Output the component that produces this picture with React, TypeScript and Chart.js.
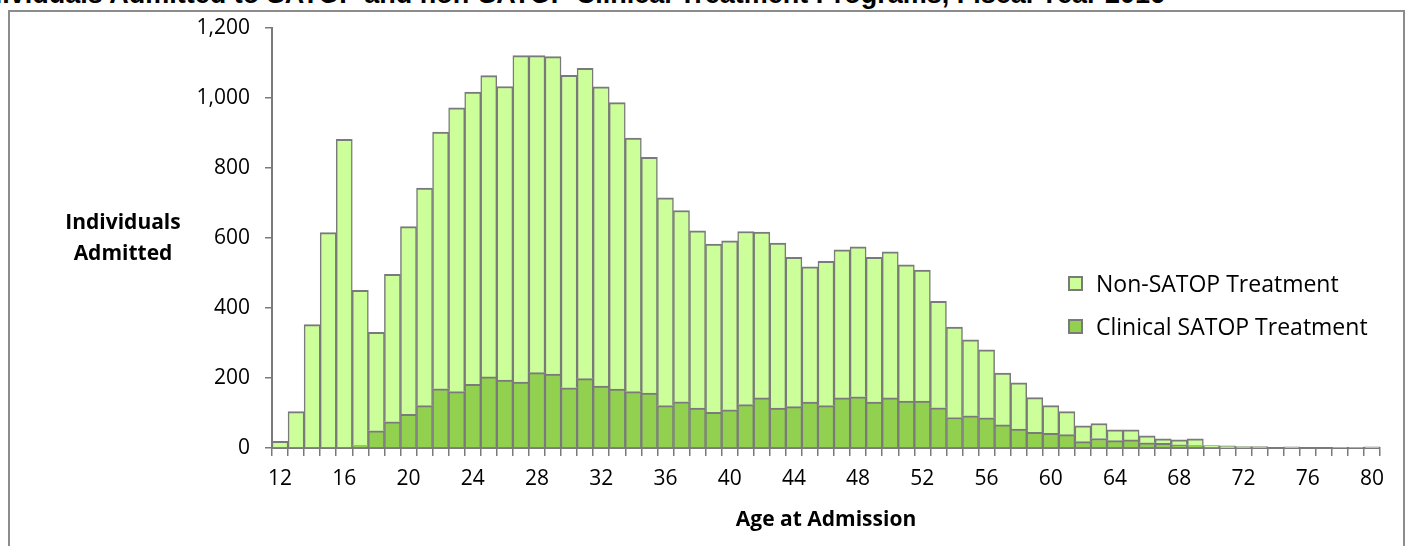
import React, { useEffect, useRef } from 'react';
import { Chart, registerables } from 'chart.js';

Chart.register(...registerables);

const TITLE = 'Individuals Admitted to SATOP and non-SATOP Clinical Treatment Programs, Fiscal Year 2016';
const Y_TITLE = ['Individuals', 'Admitted'];
const X_TITLE = 'Age at Admission';
const SERIES_NAMES = ['Clinical SATOP Treatment', 'Non-SATOP Treatment'];

const AGES = [
  '12', '13', '14', '15', '16', '17', '18', '19', '20', '21', '22', '23', '24', '25', '26', '27', '28',
  '29', '30', '31', '32', '33', '34', '35', '36', '37', '38', '39', '40', '41', '42', '43', '44', '45',
  '46', '47', '48', '49', '50', '51', '52', '53', '54', '55', '56', '57', '58', '59', '60', '61', '62',
  '63', '64', '65', '66', '67', '68', '69', '70', '71', '72', '73', '74', '75', '76', '77', '78', '79', '80',
];

const X_TICK_LABELS = ['12', '16', '20', '24', '28', '32', '36', '40', '44', '48', '52', '56', '60', '64', '68', '72', '76', '80'];

const CLINICAL_SATOP = [
  0, 0, 0, 0, 0, 7, 49, 75, 96, 121,
  169, 161, 182, 203, 194, 188, 215, 211, 172, 198,
  177, 168, 161, 157, 121, 132, 114, 102, 109, 124,
  143, 114, 118, 131, 121, 143, 146, 131, 143, 134,
  134, 115, 87, 92, 86, 66, 54, 45, 42, 38,
  18, 27, 21, 23, 15, 13, 9, 7, 2, 1,
  1, 1, 0, 1, 0, 0, 0, 0, 1,
];

const NON_SATOP = [
  19, 104, 352, 615, 881, 443, 281, 421, 536, 621,
  733, 810, 834, 860, 838, 932, 905, 906, 892, 886,
  854, 818, 724, 673, 593, 546, 506, 480, 482, 494,
  473, 471, 426, 386, 412, 423, 428, 413, 417, 389,
  374, 304, 258, 217, 194, 148, 132, 99, 79, 66,
  45, 43, 31, 29, 20, 13, 14, 19, 5, 5,
  3, 3, 2, 2, 2, 2, 1, 1, 2,
];

const Y_MIN = 0;
const Y_MAX = 1200;
const Y_STEP = 200;

const COLORS = { clinical: '#92D050', non: '#CCFF99', edge: '#7a7a7a', frame: '#8c8c8c' };
const FONT = "'Open Sans', 'Liberation Sans', sans-serif";

export default function App() {
  const canvasRef = useRef<HTMLCanvasElement | null>(null);

  useEffect(() => {
    document.body.style.margin = '0';
    const canvas = canvasRef.current;
    if (!canvas) return;
    const chart = new Chart(canvas, {
      type: 'bar',
      data: {
        labels: AGES,
        datasets: [
          {
            label: SERIES_NAMES[0],
            data: CLINICAL_SATOP,
            backgroundColor: COLORS.clinical,
            borderColor: COLORS.edge,
            borderWidth: { top: 2, left: 1.5, right: 1.5, bottom: 0 },
            barPercentage: 1,
            categoryPercentage: 1,
            stack: 's',
          },
          {
            label: SERIES_NAMES[1],
            data: NON_SATOP,
            backgroundColor: COLORS.non,
            borderColor: COLORS.edge,
            borderWidth: { top: 2, left: 1.5, right: 1.5, bottom: 0 },
            barPercentage: 1,
            categoryPercentage: 1,
            stack: 's',
          },
        ],
      },
      options: {
        responsive: false,
        animation: false,
        devicePixelRatio: 1,
        layout: { padding: { top: 25, right: 31, bottom: 0, left: 0 } },
        plugins: {
          legend: { display: false },
          tooltip: { enabled: false },
          title: { display: false },
        },
        scales: {
          x: {
            stacked: true,
            offset: true,
            grid: {
              display: true,
              drawOnChartArea: false,
              drawTicks: true,
              tickLength: 8,
              color: COLORS.edge,
              lineWidth: 1.5,
              offset: true,
            },
            border: { display: true, color: COLORS.edge, width: 2 },
            ticks: {
              autoSkip: false,
              maxRotation: 0,
              minRotation: 0,
              padding: 10,
              color: '#000',
              font: { family: FONT, size: 21 },
              callback: function (_v: any, idx: number) {
                const lab = AGES[idx];
                return X_TICK_LABELS.includes(lab) ? lab : '';
              },
            },
            title: {
              display: true,
              text: X_TITLE,
              color: '#000',
              font: { family: FONT, size: 21, weight: 'bold' },
              padding: { top: 0, bottom: 13 },
            },
            afterFit: (scale: any) => {
              scale.height = 98;
            },
          },
          y: {
            stacked: true,
            min: Y_MIN,
            max: Y_MAX,
            ticks: {
              stepSize: Y_STEP,
              padding: 15,
              color: '#000',
              font: { family: FONT, size: 21 },
            },
            grid: {
              display: true,
              drawOnChartArea: false,
              drawTicks: true,
              tickLength: 7,
              color: COLORS.edge,
              lineWidth: 1.5,
            },
            border: { display: true, color: COLORS.edge, width: 2 },
            afterFit: (scale: any) => {
              scale.width = 272;
            },
          },
        },
      },
    });
    return () => chart.destroy();
  }, []);

  const legendItems = [
    { name: SERIES_NAMES[1], color: COLORS.non, top: 268 },
    { name: SERIES_NAMES[0], color: COLORS.clinical, top: 311 },
  ];

  return (
    <div style={{ position: 'fixed', left: 0, top: 0, width: 1411, height: 546, overflow: 'hidden', background: '#fff' }}>
      <div
        style={{
          position: 'absolute',
          left: 8,
          top: 10,
          width: 1397,
          height: 560,
          border: `2px solid ${COLORS.frame}`,
          boxSizing: 'border-box',
        }}
      />
      <div
        style={{
          position: 'absolute',
          right: 1411 - 1165,
          top: -19,
          whiteSpace: 'nowrap',
          font: "bold 27px 'Liberation Sans', Arial, sans-serif",
          lineHeight: '27px',
          color: '#000',
        }}
      >
        {TITLE}
      </div>
      <canvas ref={canvasRef} width={1411} height={546} style={{ position: 'absolute', left: 0, top: 0 }} />
      <div
        style={{
          position: 'absolute',
          left: 23,
          top: 206,
          width: 200,
          textAlign: 'center',
          font: `bold 21px ${FONT}`,
          lineHeight: '31px',
          color: '#000',
        }}
      >
        {Y_TITLE.map((t) => (
          <div key={t}>{t}</div>
        ))}
      </div>
      {legendItems.map((it) => (
        <div
          key={it.name}
          style={{ position: 'absolute', left: 1068, top: it.top, display: 'flex', alignItems: 'center', height: 30 }}
        >
          <div
            style={{
              width: 15,
              height: 15,
              background: it.color,
              border: `2px solid ${COLORS.edge}`,
              boxSizing: 'border-box',
              marginRight: 13,
            }}
          />
          <span style={{ font: `23px ${FONT}`, color: '#000', lineHeight: '30px' }}>{it.name}</span>
        </div>
      ))}
    </div>
  );
}
